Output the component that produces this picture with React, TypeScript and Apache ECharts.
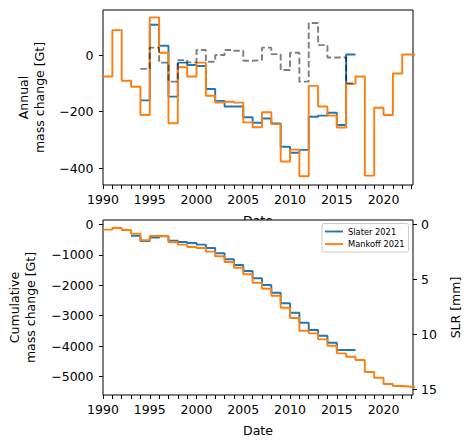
import React, { useEffect, useRef } from "react";
import * as echarts from "echarts";

const FONT = "DejaVu Sans";
const BLUE = "#1f77b4";
const ORANGE = "#ff7f0e";
const GRAY = "rgba(0,0,0,0.5)";

// Annual mass change [Gt] (value of each year, drawn as post-steps)
const mankoffAnnualStart = 1990;
const mankoffAnnual = [-76, 88, -91, -112, -212, 133, 8, -241, -43, -76, -27, -144, -168, -165, -168, -238, -255, -202, -244, -376, -334, -428, -109, -182, -214, -256, -102, -76, -426, -186, -212, -65, 2, 2];
const slaterAnnualStart = 1994;
const slaterAnnual = [-160, 107, 33, -147, -27, -35, -39, -120, -162, -182, -182, -220, -239, -224, -242, -324, -345, -335, -218, -214, -204, -247, 2];
const otherAnnualStart = 1994;
const otherAnnual = [-49, 26, -27, -94, -18, -26, 18, -24, 0, 18, 15, -20, -18, 26, 3, -53, 8, -94, 113, 35, -9, -9, -100];

// Cumulative mass change [Gt]
const mankoffCumStart = 1990;
const mankoffCum = [-177, -121, -187, -308, -525, -384, -384, -591, -668, -745, -778, -898, -1051, -1237, -1424, -1641, -1916, -2113, -2343, -2737, -3075, -3491, -3578, -3775, -3984, -4234, -4345, -4454, -4847, -5034, -5241, -5307, -5329, -5329];
const slaterCumStart = 1993;
const slaterCum = [-378, -548, -439, -394, -537, -581, -614, -668, -778, -953, -1149, -1336, -1533, -1772, -1992, -2245, -2593, -2901, -3229, -3469, -3655, -3885, -4125, -4125];

// Axes
const xTickYears = [1990, 1991, 1992, 1993, 1994, 1995, 1996, 1997, 1998, 1999, 2000, 2001, 2002, 2003, 2004, 2005, 2006, 2007, 2008, 2009, 2010, 2011, 2012, 2013, 2014, 2015, 2016, 2017, 2018, 2019, 2020, 2021, 2022, 2023];
const xLabelYears = [1990, 1995, 2000, 2005, 2010, 2015, 2020];
const annualTicks = [-400, -200, 0];
const cumTicks = [-5000, -4000, -3000, -2000, -1000, 0];
const slrTicks = [0, 5, 10, 15];
const legendNames = ["Slater 2021", "Mankoff 2021"];

const steps = (start: number, vals: number[]) => {
  const pts = vals.map((v, i) => [start + i, v]);
  pts.push([start + vals.length, vals[vals.length - 1]]);
  return pts;
};

const minus = (v: number) => String(v).replace("-", "\u2212");

const txt = { color: "#000", fontFamily: FONT, fontSize: 12.5 };

const makeX = (gridIndex: number) => ({
  type: "value",
  gridIndex,
  min: 1990,
  max: 2023.15,
  axisLine: { show: false, onZero: false },
  splitLine: { show: false },
  axisTick: { show: true, customValues: xTickYears, length: 4, lineStyle: { color: "#000", width: 1 } },
  axisLabel: { customValues: xLabelYears, formatter: (v: number) => String(v), margin: 8, ...txt },
  name: "Date",
  nameLocation: "middle",
  nameGap: 29,
  nameTextStyle: { ...txt },
});

const makeY = (gridIndex: number, min: number, max: number, ticks: number[], name: string, gap: number) => ({
  type: "value",
  gridIndex,
  min,
  max,
  axisLine: { show: false, onZero: false },
  splitLine: { show: false },
  axisTick: { show: true, customValues: ticks, length: 4, lineStyle: { color: "#000", width: 1 } },
  axisLabel: { customValues: ticks, formatter: minus, margin: 9.5, ...txt },
  name,
  nameLocation: "middle",
  nameRotate: 90,
  nameGap: gap,
  nameTextStyle: { ...txt, lineHeight: 16 },
});

const line = (name: string, data: number[][], color: string, xi: number, yi: number, dashed = false) => ({
  type: "line",
  name,
  data,
  step: "end",
  symbol: "none",
  showSymbol: false,
  xAxisIndex: xi,
  yAxisIndex: yi,
  silent: true,
  color,
  lineStyle: { color, width: 1.9, type: dashed ? [6.5, 3] : "solid" },
});

export default function App() {
  const ref = useRef<HTMLDivElement>(null);
  useEffect(() => {
    document.body.style.margin = "0";
    if (!ref.current) return;
    const chart = echarts.init(ref.current, null, { renderer: "svg" });
    chart.setOption({
      animation: false,
      backgroundColor: "#fff",
      textStyle: { fontFamily: FONT },
      grid: [
        { left: 103, top: 10, width: 310, height: 175, show: true, borderColor: "#000", borderWidth: 1, backgroundColor: "transparent", containLabel: false, outerBoundsMode: "none" },
        { left: 103, top: 220, width: 310, height: 175, show: true, borderColor: "#000", borderWidth: 1, backgroundColor: "#fff", z: 1, containLabel: false, outerBoundsMode: "none" },
      ],
      xAxis: [makeX(0), makeX(1)],
      yAxis: [
        makeY(0, -459, 159, annualTicks, "Annual\nmass change [Gt]", 56),
        makeY(1, -5600, 140, cumTicks, "Cumulative\nmass change [Gt]", 65),
        { ...makeY(1, -0.387, 15.478, slrTicks, "SLR [mm]", 32), position: "right", inverse: true, axisLabel: { customValues: slrTicks, formatter: minus, margin: 8, ...txt } },
      ],
      legend: {
        data: legendNames.map((n) => ({ name: n, icon: "rect" })),
        orient: "vertical",
        left: 322,
        top: 223.5,
        itemWidth: 18,
        itemHeight: 1.9,
        itemGap: 2.6,
        padding: [3, 4, 3, 3],
        backgroundColor: "rgba(255,255,255,0.8)",
        borderColor: "#cccccc",
        borderWidth: 1,
        borderRadius: 2,
        selectedMode: false,
        textStyle: { color: "#000", fontFamily: FONT, fontSize: 8.3, lineHeight: 10 },
      },
      series: [
        line("Slater annual", steps(slaterAnnualStart, slaterAnnual), BLUE, 0, 0),
        line("Mankoff annual", steps(mankoffAnnualStart, mankoffAnnual), ORANGE, 0, 0),
        line("Other annual", steps(otherAnnualStart, otherAnnual), GRAY, 0, 0, true),
        line(legendNames[0], steps(slaterCumStart, slaterCum), BLUE, 1, 1),
        line(legendNames[1], steps(mankoffCumStart, mankoffCum), ORANGE, 1, 1),
      ],
    });
    return () => chart.dispose();
  }, []);
  return <div ref={ref} style={{ width: 469, height: 448 }} />;
}
